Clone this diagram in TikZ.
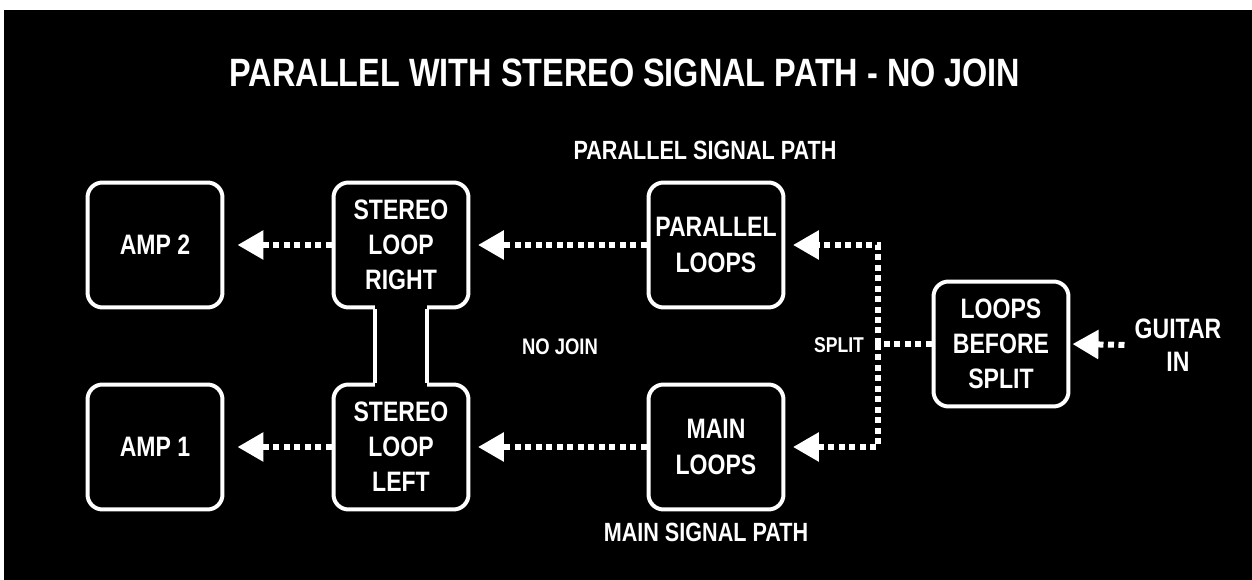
\documentclass[tikz,border=0pt]{standalone}
\usepackage{fontspec}
\setmainfont{Liberation Sans}[FakeStretch=0.82]
\usetikzlibrary{arrows.meta, calc}

\begin{document}
\begin{tikzpicture}[x=0.02cm, y=-0.02cm,
		box/.style={draw=white, line width=0.08cm, rounded corners=0.3cm, minimum width=2.7cm, minimum height=2.5cm, inner sep=0pt, align=center, text=white, font=\bfseries\fontsize{16}{20}\selectfont},
		lbl/.style={text=white, align=center, font=\bfseries\fontsize{15}{18}\selectfont},
		sig/.style={draw=white, line width=0.12cm, dash pattern=on 0.12cm off 0.09cm},
		sigarrow/.style={sig, -{Triangle[length=0.52cm, width=0.56cm]}, shorten >=0.15cm}]
			% Sfondo
			\fill[white] (0,0) rectangle (1252,580);
			\fill[black] (4,10) rectangle (1252,580);
			\useasboundingbox (0,0) rectangle (1252,580);
			
			% Titolo ed etichette
			\node[lbl, font=\bfseries\fontsize{22.5}{27}\selectfont] (title) at (625,73) {PARALLEL WITH STEREO SIGNAL PATH - NO JOIN};
			\node[lbl] (parpath) at (705,150) {PARALLEL SIGNAL PATH};
			\node[lbl] (mainpath) at (706,532) {MAIN SIGNAL PATH};
			\node[lbl, font=\bfseries\fontsize{12.8}{15}\selectfont] (nojoin) at (560,347) {NO JOIN};
			\node[lbl, font=\bfseries\fontsize{12.2}{14}\selectfont] (splitlbl) at (839,345) {SPLIT};
			
			% Blocchi
			\node[box] (amp2) at (155,245) {AMP 2};
			\node[box] (amp1) at (155,447) {AMP 1};
			\node[box] (srR) at (401,245) {STEREO\\LOOP\\RIGHT};
			\node[box] (srL) at (401,447) {STEREO\\LOOP\\LEFT};
			\node[box] (par) at (716,245) {PARALLEL\\LOOPS};
			\node[box] (main) at (716,447) {MAIN\\LOOPS};
			\node[box] (lbs) at (1001,344) {LOOPS\\BEFORE\\SPLIT};
			\node[lbl, font=\bfseries\fontsize{16}{19}\selectfont] (guitar) at (1178,345) {GUITAR\\IN};
			
			% Collo tra i due stereo loop
			\fill[black] ($(srR.south)+(-0.53cm,0.1cm)$) rectangle ($(srL.north)+(0.53cm,-0.1cm)$);
			\draw[white, line width=0.08cm] ($(srR.south)+(-0.53cm,0)$) -- ($(srL.north)+(-0.53cm,0)$);
			\draw[white, line width=0.08cm] ($(srR.south)+(0.53cm,0)$) -- ($(srL.north)+(0.53cm,0)$);
			
			% Percorsi del segnale
			\coordinate (split) at (878,344);
			\draw[sigarrow, shorten <=0.08cm, shorten >=0.04cm] (guitar.west) -- (lbs.east);
			\draw[sig] (lbs.west) -- (split);
			\draw[sigarrow] (split) |- (par.east);
			\draw[sigarrow] (split) |- (main.east);
			\draw[sigarrow] (par.west) -- (srR.east);
			\draw[sigarrow] (main.west) -- (srL.east);
			\draw[sigarrow, shorten >=0.26cm] (srR.west) -- (amp2.east);
			\draw[sigarrow, shorten >=0.26cm] (srL.west) -- (amp1.east);
		\end{tikzpicture}
\end{document}
